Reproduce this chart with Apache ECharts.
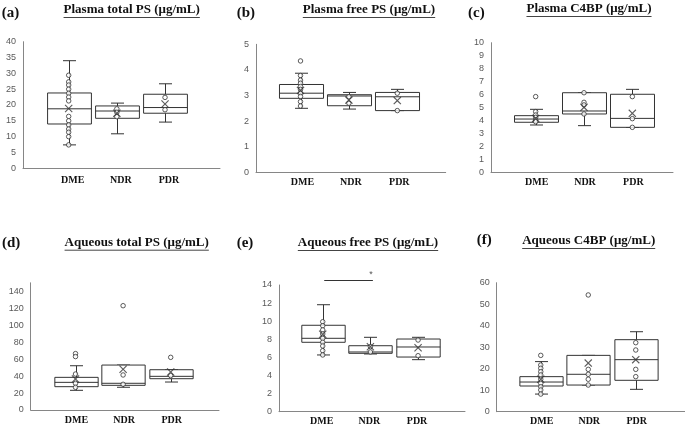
<!DOCTYPE html>
<html><head><meta charset="utf-8">
<script src="https://cdn.jsdelivr.net/npm/echarts@6/dist/echarts.min.js"></script>
<style>html,body{margin:0;padding:0;background:#fff}#c{width:685px;height:428px}</style>
</head><body><div id="c"></div>
<script>
// ---------- data ----------
const categories = ['DME', 'NDR', 'PDR'];
const titles = ['Plasma total PS (μg/mL)', 'Plasma free PS (μg/mL)', 'Plasma C4BP (μg/mL)',
  'Aqueous total PS (μg/mL)', 'Aqueous free PS (μg/mL)', 'Aqueous C4BP (μg/mL)'];
const panelTags = ['(a)', '(b)', '(c)', '(d)', '(e)', '(f)'];
// y axis scales: [max, interval]
const yMax = [40, 5, 10, 150, 14, 60];
const yInterval = [5, 1, 1, 20, 2, 10];

// boxes: [min, Q1, median, Q3, max] per category
const plasmaTotalBox = [[7.4, 14.0, 18.8, 23.8, 34.0], [10.9, 15.8, 18.1, 19.7, 20.6], [14.6, 17.4, 19.2, 23.4, 26.7]];
const plasmaTotalPts = [[29.4, 27.3, 26.3, 25.0, 23.7, 22.5, 21.3, 16.4, 15.0, 13.7, 12.4, 11.4, 10.0, 7.4], [18.8, 17.7, 16.3], [22.4, 18.5]];
const plasmaTotalMean = [18.9, 17.4, 20.3];

const plasmaFreeBox = [[2.5, 2.89, 3.09, 3.43, 3.87], [2.47, 2.60, 2.98, 3.03, 3.12], [2.41, 2.41, 2.95, 3.12, 3.24]];
const plasmaFreePts = [[4.35, 3.78, 3.6, 3.48, 3.35, 3.24, 3.09, 2.96, 2.76, 2.59], [2.95, 2.70], [3.09, 2.41]];
const plasmaFreeMean = [3.2, 2.82, 2.80];

const plasmaC4bpBox = [[3.65, 3.86, 4.11, 4.37, 4.86], [3.6, 4.5, 4.73, 6.14, 6.14], [3.47, 3.47, 4.16, 6.02, 6.4]];
const plasmaC4bpPts = [[5.84, 4.68, 4.42, 4.24, 4.04, 3.9], [6.14, 5.4, 5.2, 4.5], [5.84, 4.14, 3.47]];
const plasmaC4bpMean = [4.16, 5.01, 4.55];

const aqTotalBox = [[23.2, 27.5, 32.6, 38.5, 52.2], [26.8, 29.1, 31.5, 53.0, 53.0], [33.0, 36.9, 39.7, 47.5, 47.5]];
const aqTotalPts = [[66.5, 63.0, 42.4, 31.5, 26.8], [123, 41.3, 30.3], [62.1, 40.5]];
const aqTotalMean = [36.5, 48.0, 44.8];

const aqFreeBox = [[6.27, 7.67, 8.11, 9.55, 11.82], [6.38, 6.45, 6.6, 7.29, 8.22], [5.75, 6.04, 7.15, 8.03, 8.22]];
const aqFreePts = [[9.94, 9.5, 9.03, 8.59, 8.11, 7.67, 7.26, 6.74, 6.27], [7.19, 6.6], [7.92, 6.19]];
const aqFreeMean = [8.55, 7.18, 7.07];

const aqC4bpBox = [[8.2, 11.95, 13.8, 16.3, 23.3], [12.4, 12.4, 17.4, 26.2, 26.2], [10.4, 14.6, 24.2, 33.5, 37.2]];
const aqC4bpPts = [[26.2, 21.7, 20.2, 18.6, 17.1, 15.1, 13.2, 11.6, 10.1, 8.2], [54.3, 19.7, 17.4, 15.1, 12.4], [32.1, 28.7, 19.7, 16.3]];
const aqC4bpMean = [15.1, 22.6, 24.2];

const boxes = [plasmaTotalBox, plasmaFreeBox, plasmaC4bpBox, aqTotalBox, aqFreeBox, aqC4bpBox];
const points = [plasmaTotalPts, plasmaFreePts, plasmaC4bpPts, aqTotalPts, aqFreePts, aqC4bpPts];
const means = [plasmaTotalMean, plasmaFreeMean, plasmaC4bpMean, aqTotalMean, aqFreeMean, aqC4bpMean];

// ---------- layout (pixels) ----------
// [yAxisX, top, axisEndX, bottom, boxGridLeft, boxGridWidth, labelMargin, labelShift]
const layout = [
  [23, 41.7, 220, 168.3, 44.6, 144.5, 7, 4],
  [256, 44.3, 445.7, 172.3, 276.3, 145.2, 5, 2],
  [491, 42.7, 673, 172.3, 511.5, 145, 5, 1],
  [30.7, 282.8, 219, 410, 51.7, 142.8, 5, 1],
  [279, 285, 465, 411.7, 298.9, 143, 5, -1],
  [496.7, 282.7, 685, 411.7, 517, 142.5, 5, 1]
];
const titlePos = [[131.7, 10], [369, 10], [589, 9], [136.7, 242.7], [368, 243], [588.7, 241]];
const tagPos = [[1.7, 13], [236.7, 13], [468, 13], [2, 243], [236.7, 243], [476.7, 240]];

const AXIS = '#868686', INK = '#333';
const grid = [], xAxis = [], yAxis = [], series = [];

function renderBox(params, api) {
  const i = api.value(0);
  const lo = api.coord([i, api.value(1)]);
  const q1 = api.coord([i, api.value(2)]);
  const md = api.coord([i, api.value(3)]);
  const q3 = api.coord([i, api.value(4)]);
  const hi = api.coord([i, api.value(5)]);
  const bw = api.size([1, 0])[0] * 0.91;
  const cap = 6.5;
  const x = Math.round(lo[0]) + 0.5;
  const st = { stroke: INK, lineWidth: 1, fill: null };
  const L = (x1, y1, x2, y2) => ({ type: 'line', shape: { x1, y1, x2, y2 }, style: st });
  return {
    type: 'group', children: [
      L(x, hi[1], x, q3[1]), L(x, q1[1], x, lo[1]),
      L(x - cap, hi[1], x + cap, hi[1]), L(x - cap, lo[1], x + cap, lo[1]),
      { type: 'rect', shape: { x: x - bw / 2, y: q3[1], width: bw, height: q1[1] - q3[1] }, style: { fill: '#fff', stroke: INK, lineWidth: 1 } },
      L(x - bw / 2, md[1], x + bw / 2, md[1])
    ]
  };
}

const crossPath = 'path://M0,1L1,0L5,4L9,0L10,1L6,5L10,9L9,10L5,6L1,10L0,9L4,5Z';

for (let p = 0; p < 6; p++) {
  const [ax, top, endX, bottom, bl, bwid, margin, shift] = layout[p];
  const h = bottom - top;
  // frame grid (axis lines, y labels)
  grid.push({ left: ax, top: top, width: endX - ax, height: h, outerBoundsMode: 'none' });
  xAxis.push({ gridIndex: 2 * p, type: 'value', min: 0, max: 1, axisLine: { show: true, lineStyle: { color: AXIS, width: 1 } },
    axisTick: { show: false }, axisLabel: { show: false }, splitLine: { show: false } });
  yAxis.push({ gridIndex: 2 * p, type: 'value', min: 0, max: yMax[p], interval: yInterval[p],
    axisLine: { show: true, lineStyle: { color: AXIS, width: 1 } }, axisTick: { show: false }, splitLine: { show: false },
    axisLabel: { color: '#595959', fontSize: 9, fontFamily: 'Liberation Sans', margin: 7, showMaxLabel: p === 3 ? false : true } });
  // box grid
  grid.push({ left: bl, top: top, width: bwid, height: h, outerBoundsMode: 'none' });
  xAxis.push({ gridIndex: 2 * p + 1, type: 'category', data: categories, boundaryGap: true,
    axisLine: { show: false }, axisTick: { show: false }, splitLine: { show: false },
    axisLabel: { color: '#111', fontSize: 10, fontWeight: 'bold', fontFamily: 'Liberation Serif', margin: margin,
      padding: shift >= 0 ? [0, 0, 0, 2 * shift] : [0, -2 * shift, 0, 0] } });
  yAxis.push({ gridIndex: 2 * p + 1, type: 'value', min: 0, max: yMax[p], interval: yInterval[p], show: false, splitLine: { show: false } });

  const xi = 2 * p + 1, yi = 2 * p + 1;
  series.push({ type: 'custom', xAxisIndex: xi, yAxisIndex: yi, renderItem: renderBox, clip: false,
    encode: { x: 0, y: [1, 2, 3, 4, 5] },
    data: boxes[p].map((b, i) => [i].concat(b)), z: 2 });
  const pts = [];
  points[p].forEach((arr, i) => arr.forEach(v => pts.push([i, v])));
  series.push({ type: 'scatter', xAxisIndex: xi, yAxisIndex: yi, data: pts, symbol: 'circle', symbolSize: 4.5,
    itemStyle: { color: '#fff', borderColor: INK, borderWidth: 1 }, z: 3, silent: true });
  series.push({ type: 'scatter', xAxisIndex: xi, yAxisIndex: yi, data: means[p].map((v, i) => [i, v]), symbol: crossPath, symbolSize: 8,
    itemStyle: { color: INK }, z: 4, silent: true });
}

// titles with underline
const mctx = document.createElement('canvas').getContext('2d');
mctx.font = 'bold 13px "Liberation Serif"';
const graphic = [];
for (let p = 0; p < 6; p++) {
  const [cx, cy] = titlePos[p];
  const w = mctx.measureText(titles[p]).width;
  graphic.push({ type: 'text', x: cx, y: cy, style: { text: titles[p], font: 'bold 13px "Liberation Serif"', fill: '#111', align: 'center', verticalAlign: 'middle' } });
  graphic.push({ type: 'line', shape: { x1: cx - w / 2, y1: cy + 7.5, x2: cx + w / 2, y2: cy + 7.5 }, style: { stroke: '#444', lineWidth: 1 } });
  graphic.push({ type: 'text', x: tagPos[p][0], y: tagPos[p][1], style: { text: panelTags[p], font: 'bold 15px "Liberation Serif"', fill: '#111', align: 'left', verticalAlign: 'middle' } });
}

const chart = echarts.init(document.getElementById('c'), null, { renderer: 'canvas' });
chart.setOption({ animation: false, backgroundColor: '#fff', grid, xAxis, yAxis, series, graphic });

// significance bar in panel (e): DME vs NDR
const p0 = chart.convertToPixel({ xAxisIndex: 9, yAxisIndex: 9 }, [0, 14.55]);
const p1 = chart.convertToPixel({ xAxisIndex: 9, yAxisIndex: 9 }, [1, 14.55]);
const ps = chart.convertToPixel({ xAxisIndex: 9, yAxisIndex: 9 }, [1, 15.15]);
graphic.push({ type: 'line', shape: { x1: p0[0] + 1.5, y1: Math.round(p0[1]) + 0.5, x2: p1[0] + 2.5, y2: Math.round(p0[1]) + 0.5 }, style: { stroke: '#333', lineWidth: 1 } });
graphic.push({ type: 'text', x: ps[0] + 0.5, y: ps[1], style: { text: '*', font: '9px "Liberation Sans"', fill: '#555', align: 'center', verticalAlign: 'middle' } });
chart.setOption({ graphic });
</script></body></html>
